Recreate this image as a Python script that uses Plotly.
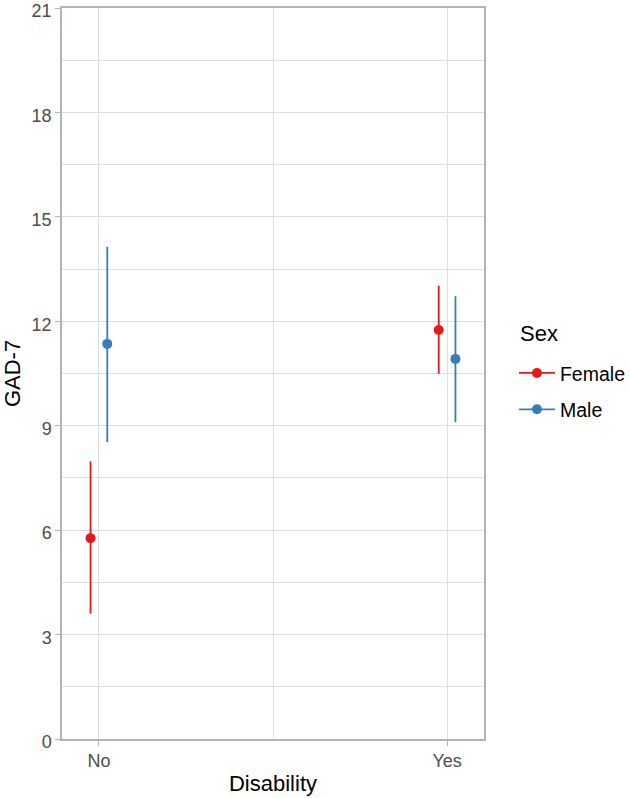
import plotly.graph_objects as go

# data
disability = ["No", "Yes"]
sex = ["Female", "Male"]
gad_mean = {"Female": [5.77, 11.75], "Male": [11.35, 10.92]}
gad_low = {"Female": [3.60, 10.49], "Male": [8.53, 9.10]}
gad_high = {"Female": [7.98, 13.02], "Male": [14.14, 12.72]}
y_ticks = [0, 3, 6, 9, 12, 15, 18, 21]

colors = {"Female": "#E41A1C", "Male": "#377EB8"}
dodge = {"Female": -0.024, "Male": 0.024}
grid = "#DEDEDE"
border = "#B3B3B3"
font = "Liberation Sans, Arial, sans-serif"

fig = go.Figure()

for s in sex:
    xs = [i + 1 + dodge[s] for i in range(len(disability))]
    m = gad_mean[s]
    fig.add_trace(go.Scatter(
        x=xs, y=m, mode="markers",
        marker=dict(color=colors[s], size=10),
        error_y=dict(
            type="data", symmetric=False,
            array=[h - v for h, v in zip(gad_high[s], m)],
            arrayminus=[v - l for v, l in zip(m, gad_low[s])],
            color=colors[s], thickness=1.8, width=0,
        ),
        showlegend=False, hoverinfo="skip",
    ))
    # legend glyph (line + point like ggplot pointrange)
    fig.add_trace(go.Scatter(
        x=[None], y=[None], mode="lines+markers", name=s,
        legendgroup=s,
        marker=dict(color=colors[s], size=10),
        line=dict(color=colors[s], width=1.8),
    ))

fig.update_layout(
    width=630, height=798,
    margin=dict(l=62, r=146, t=8, b=59, autoexpand=False),
    plot_bgcolor="white", paper_bgcolor="white",
    font=dict(family=font, color="#4D4D4D", size=18),
    legend=dict(
        x=1.071, xanchor="left", y=0.527, yanchor="top",
        font=dict(size=19.5, color="black"),
        itemwidth=36, tracegroupgap=8,
    ),
    annotations=[dict(
        text="Sex", xref="paper", yref="paper", x=(516 - 62) / 420, y=(739 - 333) / 731,
        xanchor="left", yanchor="middle", showarrow=False,
        font=dict(size=22, color="black"),
    )],
)

fig.update_xaxes(
    range=[0.894, 2.106],
    tickvals=[1, 2], ticktext=disability,
    showgrid=True, gridcolor=grid, gridwidth=1,
    minor=dict(tickvals=[1.5], showgrid=True, gridcolor=grid, gridwidth=1, ticks=""),
    ticks="outside", ticklen=5, tickcolor=border, tickwidth=1,
    showline=True, linecolor=border, linewidth=1.5, mirror=True,
    zeroline=False, automargin=False, ticklabeloverflow="allow",
    title=dict(text="Disability", font=dict(size=22, color="black"), standoff=5),
)

fig.update_yaxes(
    range=[0, 21],
    tickvals=y_ticks,
    showgrid=True, gridcolor=grid, gridwidth=1,
    minor=dict(dtick=1.5, tick0=0, showgrid=True, gridcolor=grid, gridwidth=0.7, ticks=""),
    ticks="outside", ticklen=5, tickcolor=border, tickwidth=1,
    showline=True, linecolor=border, linewidth=1.5, mirror=True,
    zeroline=False, automargin=False, ticklabeloverflow="allow",
    ticklabelshift=3,
    title=dict(text="GAD-7", font=dict(size=22, color="black"), standoff=17),
)

fig.write_html("out.html", config={"displayModeBar": False},
               post_script="document.body.style.margin='0';")
